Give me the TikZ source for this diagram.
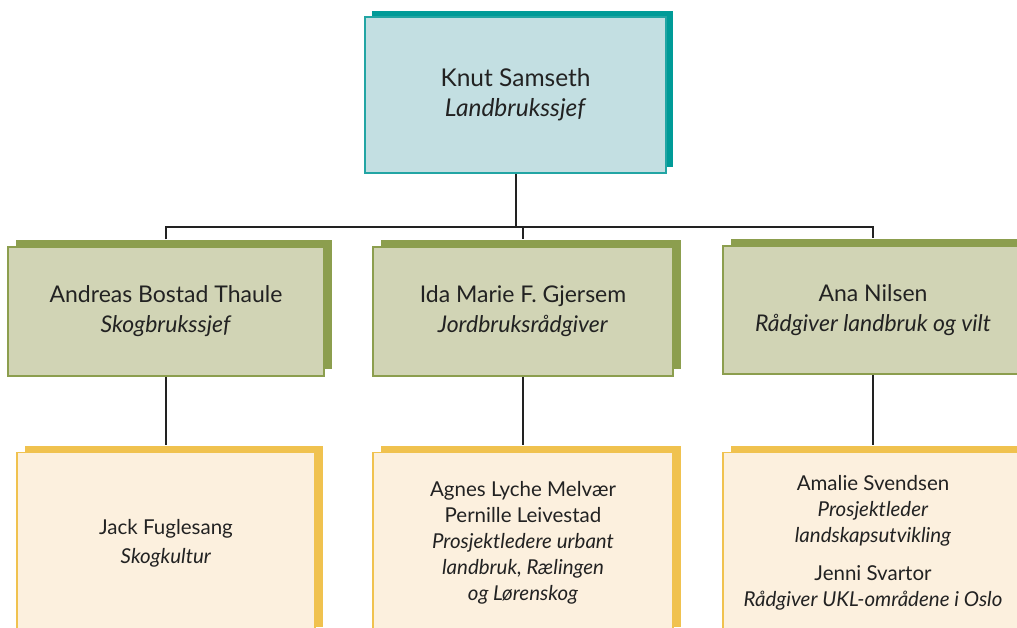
\documentclass[tikz,border=0pt]{standalone}
\usepackage{fontspec}
\setmainfont{Lato}
\usepackage{tikz}
\usetikzlibrary{positioning,shadows}
\definecolor{tealmork}{HTML}{009B98}
\definecolor{tealkant}{HTML}{22A5A4}
\definecolor{tealfyll}{HTML}{C3DFE2}
\definecolor{gronnmork}{HTML}{8C9E4E}
\definecolor{gronnfyll}{HTML}{D1D4B5}
\definecolor{gulmork}{HTML}{F0C24F}
\definecolor{gulfyll}{HTML}{FCF0DE}
\definecolor{strek}{HTML}{222222}

\begin{document}
\begin{tikzpicture}[x=1pt,y=-1pt,
  boks/.style={rectangle,inner sep=0pt,align=center,line width=1.5pt,text=strek},
  leder/.style={boks,fill=tealfyll,draw=tealkant,minimum width=301pt,minimum height=156pt,
    font=\fontsize{24.5}{30}\selectfont,
    drop shadow={shadow xshift=7pt,shadow yshift=6pt,fill=tealmork,opacity=1}},
  fag/.style={boks,fill=gronnfyll,draw=gronnmork,minimum width=300pt,minimum height=129pt,
    font=\fontsize{23}{30}\selectfont,
    drop shadow={shadow xshift=8pt,shadow yshift=7pt,fill=gronnmork,opacity=1}},
  prosjekt/.style={boks,fill=gulfyll,draw=gulmork,minimum width=300pt,minimum height=181pt,
    font=\fontsize{20.5}{26}\selectfont,
    drop shadow={shadow xshift=8pt,shadow yshift=7pt,fill=gulmork,opacity=1}},
  linje/.style={draw=strek,line width=2pt}]
\useasboundingbox (0,0) rectangle (1017,627);
\clip (0,0) rectangle (1017,627);

\coordinate (skinne) at (0,227);

\node[leder] (knut) at (515.5,95) {Knut Samseth\\\textit{Landbrukssjef}};

\node[fag,minimum width=316pt] (andreas) at (166,311.5) {Andreas Bostad Thaule\\\textit{Skogbrukssjef}};
\node[fag] (ida) at (523,311.5) {Ida Marie F. Gjersem\\\textit{Jordbruksrådgiver}};
\node[fag,minimum height=128pt] (ana) at (873,310) {Ana Nilsen\\\textit{Rådgiver landbruk og vilt}};

\node[prosjekt,minimum width=298pt] (jack) at (166,543) {Jack Fuglesang\\[3pt]\textit{Skogkultur}};
\node[prosjekt] (agnes) at (523,543) {Agnes Lyche Melvær\\Pernille Leivestad\\\textit{Prosjektledere urbant}\\\textit{landbruk, Rælingen}\\\textit{og Lørenskog}};
\node[prosjekt] (amalie) at (873,543) {Amalie Svendsen\\\textit{Prosjektleder}\\\textit{landskapsutvikling}\\[12pt]Jenni Svartor\\\textit{Rådgiver UKL-områdene i Oslo}};

\draw[linje] (knut.south) -- (knut.south |- skinne);
\draw[linje] ([yshift=7pt]andreas.north) -- (andreas.north |- skinne) -| ([yshift=7pt]ana.north);
\draw[linje] (ida.north |- skinne) -- ([yshift=7pt]ida.north);

\draw[linje] (andreas.south) -- ([yshift=7pt]jack.north);
\draw[linje] (ida.south) -- ([yshift=7pt]agnes.north);
\draw[linje] (ana.south) -- ([yshift=7pt]amalie.north);
\end{tikzpicture}
\end{document}
